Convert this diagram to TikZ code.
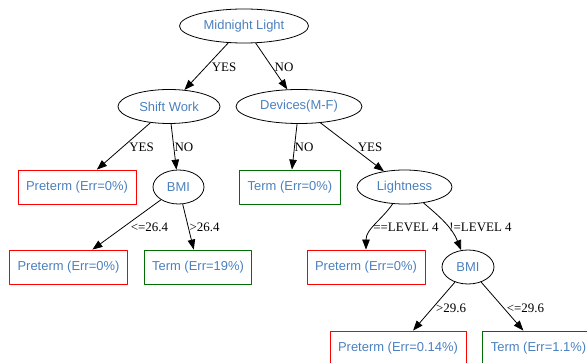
\documentclass[tikz,border=0pt]{standalone}
\usepackage{fontspec}
\setmainfont{Liberation Serif}
\setsansfont{Liberation Sans}
\usepackage{tikz}
\usetikzlibrary{arrows.meta}
\usetikzlibrary{shapes}
\definecolor{nodeblue}{RGB}{74,128,190}
\definecolor{leafgreen}{RGB}{0,110,0}

\begin{document}
\begin{tikzpicture}[>={Triangle[length=10bp,width=7.5bp]},line join=bevel,line width=0.8bp,
  split/.style={draw,ellipse,inner sep=0pt,minimum height=34bp,text=nodeblue,font=\fontsize{13}{15}\sffamily},
  leaf/.style={draw,rectangle,inner sep=0pt,inner xsep=8bp,minimum height=34bp,text=nodeblue,font=\fontsize{13}{15}\sffamily},
  preterm/.style={leaf,draw=red},
  term/.style={leaf,draw=leafgreen},
  cond/.style={inner sep=0pt,font=\fontsize{13}{15}\selectfont}]
%%
\useasboundingbox (0bp,0bp) rectangle (587bp,363bp);
\node (node_0) at (244bp,337bp) [split,minimum width=129bp] {Midnight Light};
  \node (node_1) at (169bp,256.5bp) [split,minimum width=102bp] {Shift Work};
  \node (node_2) at (299bp,256.5bp) [split,minimum width=126bp] {Devices(M-F)};
  \node (node_3) at (77bp,176bp) [preterm] {Preterm (Err=0\%)};
  \node (node_4) at (178.5bp,176bp) [split,minimum width=51bp] {BMI};
  \node (node_5) at (290bp,176bp) [term] {Term (Err=0\%)};
  \node (node_6) at (404.5bp,176bp) [split,minimum width=95bp] {Lightness};
  \node (node_7) at (68.5bp,96bp) [preterm] {Preterm (Err=0\%)};
  \node (node_8) at (198bp,96bp) [term] {Term (Err=19\%)};
  \node (node_9) at (366bp,96bp) [preterm] {Preterm (Err=0\%)};
  \node (node_10) at (468bp,96bp) [split,minimum width=52bp] {BMI};
  \node (node_11) at (398bp,15bp) [preterm] {Preterm (Err=0.14\%)};
  \node (node_12) at (538.5bp,15bp) [term] {Term (Err=1.1\%)};
  \node (lbl_0_1) at (224bp,296bp) [cond] {YES};
  \node (lbl_0_2) at (284bp,296bp) [cond] {NO};
  \node (lbl_1_3) at (141.5bp,216bp) [cond] {YES};
  \node (lbl_1_4) at (184bp,216bp) [cond] {NO};
  \node (lbl_2_5) at (304bp,216bp) [cond] {NO};
  \node (lbl_2_6) at (370bp,216bp) [cond] {YES};
  \node (lbl_4_7) at (149.5bp,136bp) [cond] {<=26.4};
  \node (lbl_4_8) at (204.5bp,136bp) [cond] {>26.4};
  \node (lbl_6_9) at (406bp,136bp) [cond] {==LEVEL 4};
  \node (lbl_6_10) at (480.5bp,136bp) [cond] {!=LEVEL 4};
  \node (lbl_10_11) at (451bp,55bp) [cond] {>29.6};
  \node (lbl_10_12) at (525.5bp,55bp) [cond] {<=29.6};
  \draw [black,->] (node_0) -- (node_1);
  \draw [black,->] (node_0) -- (node_2);
  \draw [black,->] (node_1) -- (node_3);
  \draw [black,->] (node_1) -- (node_4);
  \draw [black,->] (node_2) -- (node_5);
  \draw [black,->] (node_2) -- (node_6);
  \draw [black,->] (node_4) -- (node_7);
  \draw [black,->] (node_4) -- (node_8);
  \draw [black,->] (node_6) to[out=-125,in=90] (node_9);
  \draw [black,->] (node_6) to[out=-40,in=112] (node_10);
  \draw [black,->] (node_10) -- (node_11);
  \draw [black,->] (node_10) -- (node_12);
%
\end{tikzpicture}
\end{document}
